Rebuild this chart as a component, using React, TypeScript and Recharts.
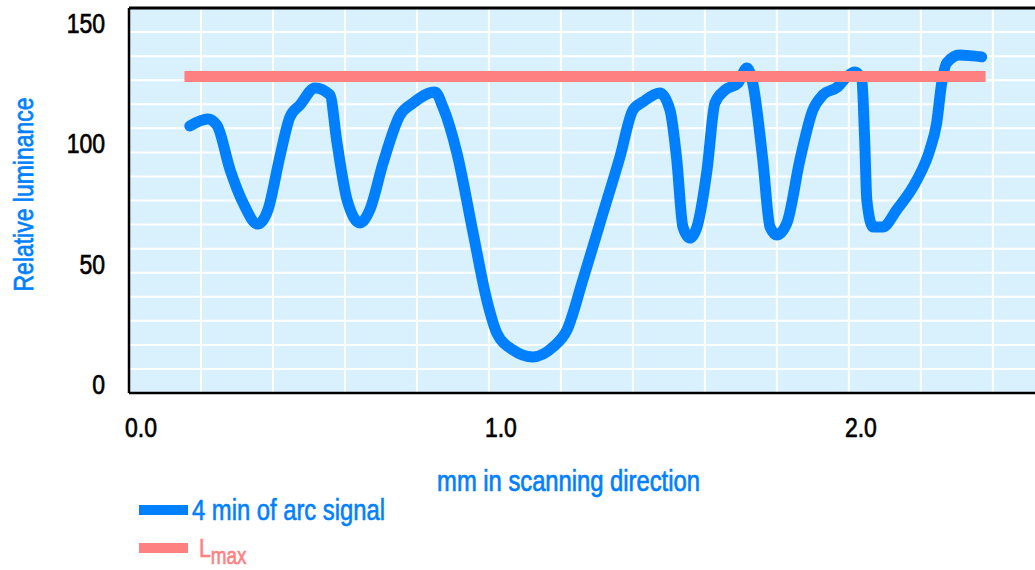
import React from 'react';
import { LineChart, Line, XAxis, YAxis, CartesianGrid, ReferenceLine, Label } from 'recharts';

// ---- data ----
const signalX = [
  0.169, 0.219, 0.244, 0.281, 0.317, 0.358, 0.386, 0.419, 0.447, 0.475, 0.517, 0.558, 0.578, 0.606,
  0.642, 0.669, 0.706, 0.753, 0.789, 0.850, 0.872, 0.911, 0.956, 0.994, 1.022, 1.067, 1.122, 1.178,
  1.217, 1.261, 1.317, 1.364, 1.400, 1.428, 1.475, 1.503, 1.522, 1.539, 1.558, 1.578, 1.606, 1.628,
  1.656, 1.692, 1.717, 1.733, 1.761, 1.781, 1.800, 1.828, 1.864, 1.900, 1.928, 1.969, 1.994, 2.017,
  2.036, 2.044, 2.050, 2.067, 2.094, 2.133, 2.189, 2.225, 2.244, 2.258, 2.272, 2.308, 2.344, 2.369,
];
const signalY = [
  111.0, 113.9, 111.4, 92.7, 79.0, 70.2, 76.1, 98.1, 114.7, 119.7, 126.8, 123.9, 103.9, 80.2,
  70.7, 76.1, 95.6, 115.5, 120.5, 125.1, 118.9, 99.8, 66.5, 38.7, 24.9, 17.9, 15.0, 19.1,
  26.2, 47.0, 74.8, 98.1, 117.6, 121.0, 124.7, 117.6, 96.8, 69.0, 64.4, 69.0, 92.7, 120.5,
  125.9, 128.8, 135.1, 128.8, 96.8, 69.0, 65.7, 70.7, 96.8, 117.6, 123.9, 127.2, 131.3, 133.4,
  130.1, 105.2, 80.2, 69.0, 69.0, 76.1, 88.5, 101.0, 112.2, 128.8, 137.2, 140.5, 140.1, 139.7,
];
const lmaxX = [0.154, 2.38];
const lmaxValue = 131.5;

const xTicks = [0, 0.2, 0.4, 0.6, 0.8, 1.0, 1.2, 1.4, 1.6, 1.8, 2.0, 2.2, 2.4];
const xLabelTicks = [0, 1, 2];
const yTicks = [0, 10, 20, 30, 40, 50, 60, 70, 80, 90, 100, 110, 120, 130, 140, 150, 160];
const yLabelTicks = [0, 50, 100, 150];

const seriesNames = { signal: '4 min of arc signal', lmaxMain: 'L', lmaxSub: 'max' };

// ---- styling ----
const FONT = '"Liberation Sans", Arial, sans-serif';
const NARROW = 0.82;
const BLUE = '#0080FF';
const PINK = '#FF8080';
const BG = '#D9F1FD';

const signalData = signalX.map((x, i) => ({ x, signal: signalY[i] }));
const lmaxData = lmaxX.map((x) => ({ x, lmax: lmaxValue }));

const near = (a: number, list: number[]) => list.some((v) => Math.abs(v - a) < 1e-6);

const NarrowText = ({ x, y, rotate = 0, anchor = 'start', size = 28, fill = '#000', children }: any) => (
  <text
    transform={`translate(${x}, ${y}) rotate(${rotate}) scale(${NARROW}, 1)`}
    textAnchor={anchor}
    fontSize={size}
    fontFamily={FONT}
    fill={fill}
    stroke={fill}
    strokeWidth={0.7}
  >
    {children}
  </text>
);

const YTick = (props: any) => {
  const { x, y, payload } = props;
  if (!near(payload.value, yLabelTicks)) return <g />;
  return (
    <NarrowText x={x - 24} y={y + 1} anchor="end">
      {payload.value}
    </NarrowText>
  );
};

const XTick = (props: any) => {
  const { x, y, payload } = props;
  if (!near(payload.value, xLabelTicks)) return <g />;
  return (
    <NarrowText x={x + 12} y={y + 44} anchor="middle">
      {Number(payload.value).toFixed(1)}
    </NarrowText>
  );
};

const YTitle = (props: any) => {
  const vb = props.viewBox;
  return (
    <NarrowText x={vb.x + 33} y={vb.y + vb.height / 2 - 6} rotate={-90} anchor="middle" fill={BLUE}>
      Relative luminance
    </NarrowText>
  );
};

const XTitle = (props: any) => {
  const vb = props.viewBox;
  return (
    <NarrowText x={vb.x + vb.width / 2 - 14} y={vb.y + 98} anchor="middle" size={29} fill={BLUE}>
      mm in scanning direction
    </NarrowText>
  );
};

const narrowSpan: React.CSSProperties = {
  display: 'inline-block',
  transform: `scaleX(${NARROW})`,
  transformOrigin: 'left center',
  whiteSpace: 'nowrap',
  WebkitTextStroke: '0.6px',
};

const LegendBox = () => (
  <div style={{ position: 'absolute', left: 139, top: 491, fontFamily: FONT }}>
    <div style={{ display: 'flex', alignItems: 'center', height: 38 }}>
      <div style={{ width: 49, height: 10, background: BLUE, marginRight: 4 }} />
      <span style={{ ...narrowSpan, color: BLUE, fontSize: 29, lineHeight: '29px' }}>{seriesNames.signal}</span>
    </div>
    <div style={{ display: 'flex', alignItems: 'center', height: 38 }}>
      <div style={{ width: 49, height: 10, background: PINK, marginRight: 11 }} />
      <span style={{ ...narrowSpan, color: PINK, fontSize: 26, lineHeight: '26px' }}>
        {seriesNames.lmaxMain}
        <span style={{ fontSize: 23, position: 'relative', top: 7 }}>{seriesNames.lmaxSub}</span>
      </span>
    </div>
  </div>
);

export default function App() {
  return (
    <div style={{ position: 'absolute', left: 0, top: 0, width: 1035, height: 570, background: '#fff', overflow: 'hidden' }}>
      <LineChart width={1036} height={570} margin={{ top: 8, right: 0, left: 0, bottom: 0 }}>
        <CartesianGrid fill={BG} fillOpacity={1} stroke="#FFFFFF" strokeWidth={2} />
        <XAxis
          type="number"
          dataKey="x"
          domain={[0, 2.52]}
          ticks={xTicks}
          interval={0}
          allowDataOverflow
          height={177}
          tickSize={0}
          tickMargin={0}
          tickLine={false}
          axisLine={{ stroke: '#000', strokeWidth: 2.5 }}
          tick={<XTick />}
        >
          <Label content={<XTitle />} />
        </XAxis>
        <YAxis
          type="number"
          domain={[0, 160]}
          ticks={yTicks}
          interval={0}
          allowDataOverflow
          width={129}
          tickSize={0}
          tickMargin={0}
          tickLine={false}
          axisLine={{ stroke: '#000', strokeWidth: 2.5 }}
          tick={<YTick />}
        >
          <Label content={<YTitle />} />
        </YAxis>
        <ReferenceLine y={160} stroke="#000" strokeWidth={3} />
        <Line
          data={signalData}
          dataKey="signal"
          name={seriesNames.signal}
          type="monotone"
          stroke={BLUE}
          strokeWidth={11}
          strokeLinecap="round"
          strokeLinejoin="round"
          dot={false}
          activeDot={false}
          isAnimationActive={false}
        />
        <Line
          data={lmaxData}
          dataKey="lmax"
          name="Lmax"
          type="linear"
          stroke={PINK}
          strokeWidth={11}
          strokeLinecap="butt"
          dot={false}
          activeDot={false}
          isAnimationActive={false}
        />
      </LineChart>
      <LegendBox />
    </div>
  );
}
